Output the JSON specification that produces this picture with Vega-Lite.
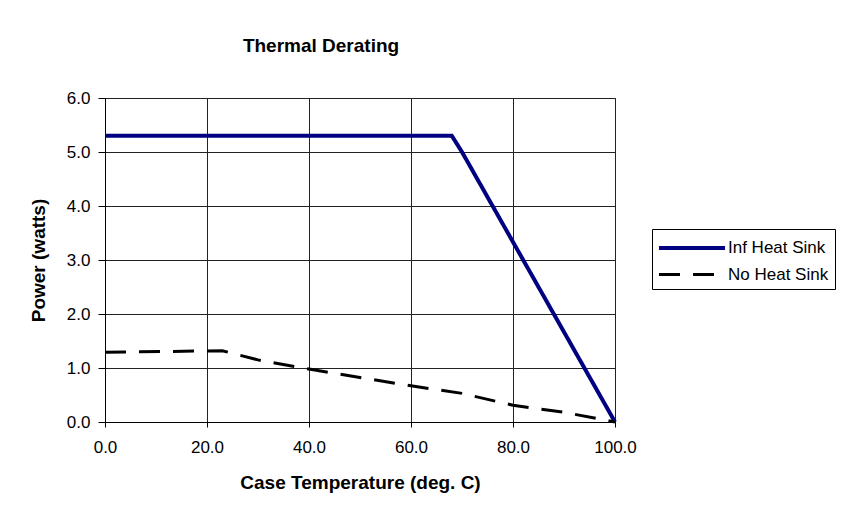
{
  "$schema": "https://vega.github.io/schema/vega-lite/v6.json",
  "width": 510,
  "height": 324,
  "autosize": {"type": "none"},
  "padding": {"left": 105, "top": 98, "right": 228, "bottom": 90},
  "background": "white",
  "title": {
    "text": "Thermal Derating",
    "font": "Liberation Sans",
    "fontSize": 19,
    "fontWeight": "bold",
    "color": "black",
    "anchor": "middle",
    "dx": -39,
    "baseline": "alphabetic",
    "offset": 18
  },
  "data": {
    "values": [
      {"series": "Inf Heat Sink", "temp": 0, "power": 5.3},
      {"series": "Inf Heat Sink", "temp": 68, "power": 5.3},
      {"series": "Inf Heat Sink", "temp": 70, "power": 5.0},
      {"series": "Inf Heat Sink", "temp": 100, "power": 0.0},
      {"series": "No Heat Sink", "temp": 0, "power": 1.29},
      {"series": "No Heat Sink", "temp": 23, "power": 1.32},
      {"series": "No Heat Sink", "temp": 30, "power": 1.15},
      {"series": "No Heat Sink", "temp": 40, "power": 0.98},
      {"series": "No Heat Sink", "temp": 60, "power": 0.67},
      {"series": "No Heat Sink", "temp": 70, "power": 0.53},
      {"series": "No Heat Sink", "temp": 80, "power": 0.31},
      {"series": "No Heat Sink", "temp": 90, "power": 0.18},
      {"series": "No Heat Sink", "temp": 100, "power": 0.0}
    ]
  },
  "mark": {"type": "line", "clip": false},
  "encoding": {
    "x": {
      "field": "temp",
      "type": "quantitative",
      "scale": {"domain": [0, 100], "nice": false},
      "axis": {
        "title": "Case Temperature (deg. C)",
        "values": [0, 20, 40, 60, 80, 100],
        "format": ".1f",
        "labelFlush": false,
        "labelAlign": "center",
        "tickSize": 5,
        "labelPadding": 12,
        "titlePadding": 18
      }
    },
    "y": {
      "field": "power",
      "type": "quantitative",
      "scale": {"domain": [0, 6], "nice": false},
      "axis": {
        "title": "Power (watts)",
        "values": [0, 1, 2, 3, 4, 5, 6],
        "format": ".1f",
        "tickSize": 7,
        "labelPadding": 8,
        "titlePadding": 18
      }
    },
    "color": {
      "field": "series",
      "type": "nominal",
      "scale": {"domain": ["Inf Heat Sink", "No Heat Sink"], "range": ["#000080", "#000000"]},
      "legend": {"title": null}
    },
    "strokeDash": {
      "field": "series",
      "type": "nominal",
      "scale": {"domain": ["Inf Heat Sink", "No Heat Sink"], "range": [[1, 0], [21, 13]]},
      "legend": {"title": null}
    },
    "strokeWidth": {
      "field": "series",
      "type": "nominal",
      "scale": {"domain": ["Inf Heat Sink", "No Heat Sink"], "range": [4, 3]},
      "legend": null
    }
  },
  "config": {
    "font": "Liberation Sans",
    "view": {"stroke": "black", "strokeWidth": 1},
    "axis": {
      "labelFont": "Liberation Sans",
      "labelFontSize": 17,
      "labelColor": "black",
      "titleFont": "Liberation Sans",
      "titleFontSize": 19,
      "titleFontWeight": "bold",
      "titleColor": "black",
      "domainColor": "black",
      "tickColor": "black",
      "gridColor": "#222222",
      "gridOpacity": 1,
      "gridWidth": 1,
      "grid": true
    },
    "legend": {
      "orient": "none",
      "legendX": 547,
      "legendY": 131,
      "strokeColor": "black",
      "fillColor": "white",
      "padding": 6,
      "labelFont": "Liberation Sans",
      "labelFontSize": 17,
      "labelColor": "black",
      "symbolType": "M-3,0H3",
      "symbolSize": 484,
      "symbolStrokeWidth": 3.5,
      "symbolOffset": 21,
      "labelOffset": 23,
      "rowPadding": 6
    }
  }
}
